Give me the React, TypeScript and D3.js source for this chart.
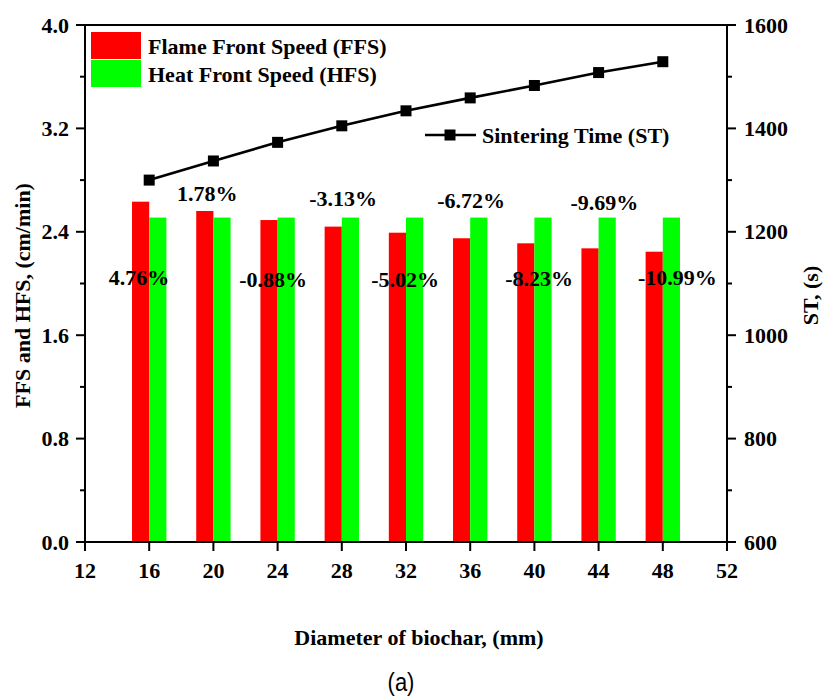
import React from 'react';
import * as d3 from 'd3';

const diameters = [16, 20, 24, 28, 32, 36, 40, 44, 48];
const ffsValues = [2.633, 2.561, 2.491, 2.44, 2.393, 2.35, 2.311, 2.272, 2.246];
const hfsValues = [2.51, 2.51, 2.51, 2.51, 2.51, 2.51, 2.51, 2.51, 2.51];
const stValues = [1300, 1337, 1373, 1405, 1434, 1459, 1483, 1508, 1529];
const pctLabels = ['4.76%', '1.78%', '-0.88%', '-3.13%', '-5.02%', '-6.72%', '-8.23%', '-9.69%', '-10.99%'];
// annotation anchors in data units (mm, cm/min)
const pctLabelX = [15.37, 19.61, 23.72, 28.08, 31.95, 36.06, 40.3, 44.36, 48.91];
const pctLabelY = [2.05, 2.7, 2.03, 2.66, 2.03, 2.64, 2.04, 2.63, 2.05];
const xTicks = [12, 16, 20, 24, 28, 32, 36, 40, 44, 48, 52];
const yLeftTicks = [0, 0.8, 1.6, 2.4, 3.2, 4.0];
const yRightTicks = [600, 800, 1000, 1200, 1400, 1600];
const seriesNames = ['Flame Front Speed (FFS)', 'Heat Front Speed (HFS)', 'Sintering Time (ST)'];

const W = 823, H = 700;
const L = 85, R = 727, T = 25, B = 542;
const FONT = "'Liberation Serif', 'Times New Roman', serif";
const RED = '#ff0000';
const GREEN = '#00ff00';
const FS = 22;

export default function App() {
  const x = d3.scaleLinear().domain([12, 52]).range([L, R]);
  const yL = d3.scaleLinear().domain([0, 4]).range([B, T]);
  const yR = d3.scaleLinear().domain([600, 1600]).range([B, T]);
  const barW = 1.07;
  const line = d3.line<number>().x((_, i) => x(diameters[i])).y((d) => yR(d));
  const leftMinor = yLeftTicks.slice(1).map((v, i) => (v + yLeftTicks[i]) / 2);
  const rightMinor = yRightTicks.slice(1).map((v, i) => (v + yRightTicks[i]) / 2);
  const ms = 11;

  return (
    <svg width={W} height={H} style={{ position: 'absolute', left: 0, top: 0, background: '#fff' }}
      fontFamily={FONT} fontWeight="bold">
      <rect x={0} y={0} width={W} height={H} fill="#fff" />
      {/* bars */}
      {diameters.map((d, i) => (
        <g key={d}>
          <rect x={x(d - barW)} y={yL(ffsValues[i])} width={x(d) - x(d - barW)} height={yL(0) - yL(ffsValues[i])} fill={RED} />
          <rect x={x(d)} y={yL(hfsValues[i])} width={x(d + barW) - x(d)} height={yL(0) - yL(hfsValues[i])} fill={GREEN} />
        </g>
      ))}
      {/* percentage labels */}
      {pctLabels.map((t, i) => (
        <text key={t} x={x(pctLabelX[i])} y={yL(pctLabelY[i])} textAnchor="middle" dominantBaseline="central" fontSize={FS}>{t}</text>
      ))}
      {/* ST line */}
      <path d={line(stValues) || ''} fill="none" stroke="#000" strokeWidth={2.6} />
      {stValues.map((v, i) => (
        <rect key={i} x={x(diameters[i]) - ms / 2} y={yR(v) - ms / 2} width={ms} height={ms} fill="#000" />
      ))}
      {/* frame */}
      <rect x={L} y={T} width={R - L} height={B - T} fill="none" stroke="#000" strokeWidth={2} />
      {/* x axis ticks */}
      {xTicks.map((t) => (
        <g key={t}>
          <line x1={x(t)} x2={x(t)} y1={B} y2={B + 9} stroke="#000" strokeWidth={2} />
          <text x={x(t)} y={B + 36} textAnchor="middle" fontSize={FS}>{t}</text>
        </g>
      ))}
      {/* left axis */}
      {yLeftTicks.map((t) => (
        <g key={t}>
          <line x1={L - 9} x2={L} y1={yL(t)} y2={yL(t)} stroke="#000" strokeWidth={2} />
          <text x={L - 16} y={yL(t)} textAnchor="end" dominantBaseline="central" fontSize={FS}>{t.toFixed(1)}</text>
        </g>
      ))}
      {leftMinor.map((t) => (
        <line key={t} x1={L - 5} x2={L} y1={yL(t)} y2={yL(t)} stroke="#000" strokeWidth={2} />
      ))}
      {/* right axis */}
      {yRightTicks.map((t) => (
        <g key={t}>
          <line x1={R} x2={R + 9} y1={yR(t)} y2={yR(t)} stroke="#000" strokeWidth={2} />
          <text x={R + 17} y={yR(t)} textAnchor="start" dominantBaseline="central" fontSize={FS}>{t}</text>
        </g>
      ))}
      {rightMinor.map((t) => (
        <line key={t} x1={R} x2={R + 5} y1={yR(t)} y2={yR(t)} stroke="#000" strokeWidth={2} />
      ))}
      {/* axis titles */}
      <text transform={`translate(22,${(T + B) / 2 + 12}) rotate(-90)`} textAnchor="middle" dominantBaseline="central" fontSize={FS}>FFS and HFS, (cm/min)</text>
      <text transform={`translate(810,${(T + B) / 2 + 12}) rotate(-90)`} textAnchor="middle" dominantBaseline="central" fontSize={FS}>ST, (s)</text>
      <text x={419} y={637} textAnchor="middle" dominantBaseline="central" fontSize={FS}>Diameter of biochar, (mm)</text>
      <g transform="translate(401,683) scale(0.88,1)">
        <text x={0} y={0} textAnchor="middle" dominantBaseline="central" fontSize={25} fontWeight="normal"
          fontFamily="'Liberation Sans Narrow', 'Liberation Sans', Arial, sans-serif">(a)</text>
      </g>
      {/* legend */}
      <rect x={91} y={32} width={50} height={27} fill={RED} />
      <rect x={91} y={60} width={50} height={27} fill={GREEN} />
      <text x={148} y={46} dominantBaseline="central" fontSize={FS}>{seriesNames[0]}</text>
      <text x={148} y={74} dominantBaseline="central" fontSize={FS}>{seriesNames[1]}</text>
      <line x1={425} x2={476} y1={135} y2={135} stroke="#000" strokeWidth={2.6} />
      <rect x={450 - ms / 2} y={135 - ms / 2} width={ms} height={ms} fill="#000" />
      <text x={482} y={135} dominantBaseline="central" fontSize={FS}>{seriesNames[2]}</text>
    </svg>
  );
}
